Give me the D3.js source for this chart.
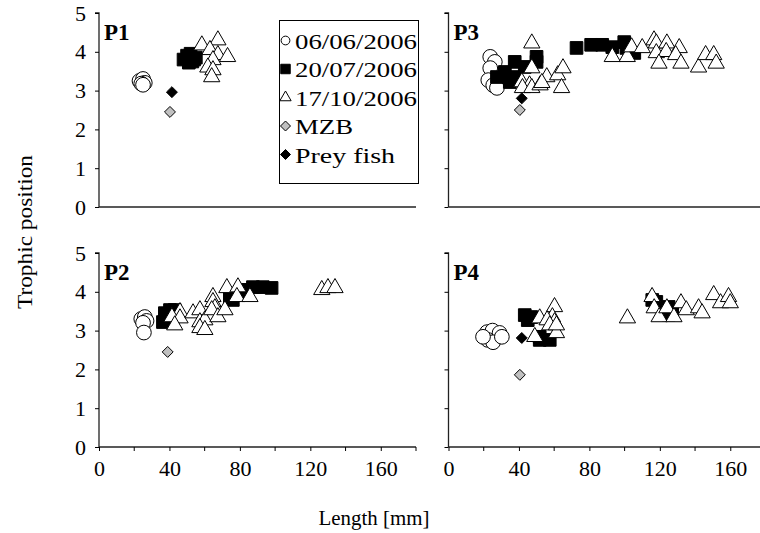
<!DOCTYPE html>
<html>
<head>
<meta charset="utf-8">
<script src="https://cdn.jsdelivr.net/npm/d3@7"></script>
<style>
  body { margin: 0; background: #fff; }
</style>
</head>
<body>
<div class="graph"></div>
<script>
var width = 760,
    height = 533;
var serif = '"Liberation Serif", "Times New Roman", serif';

// series per panel: [length mm, trophic position]
var p1Jun = [[23, 3.25], [25, 3.3], [26, 3.2], [24, 3.18], [25, 3.15]];
var p1Jul = [[48, 3.8], [50, 3.9], [52, 3.95], [54, 3.8], [51, 3.72], [55, 3.85], [53, 3.75]];
var p1Oct = [[58.4, 4.17], [67.5, 4.3], [63, 4.05], [67.5, 3.92], [73, 3.87], [64.7, 3.79], [61.8, 3.6], [64.7, 3.53], [64, 3.35]];
var p1Mzb = [[40.3, 2.45]];
var p1Prey = [[41.4, 2.96]];

var p2Jun = [[24, 3.3], [26, 3.35], [27, 3.25], [25, 3.2], [25.5, 2.95]];
var p2Jul = [[37.4, 3.45], [40.3, 3.53], [36.3, 3.22], [43, 3.53], [42, 3.27],
             [74.3, 3.87], [81, 4.0], [87.4, 4.12], [93, 4.12], [98, 4.1], [76, 3.79], [84, 4.05]];
var p2Oct = [[46, 3.48], [41.4, 3.35], [46, 3.32], [43, 3.14], [53.4, 3.45], [57.3, 3.53], [57.3, 3.22],
             [60.1, 3.27], [57.3, 3.07], [60.1, 3.02], [64.7, 3.87], [64.7, 3.74], [65.8, 3.58], [64, 3.53],
             [67.5, 3.35], [71.5, 3.53], [72.6, 4.1], [78.9, 4.12], [78.3, 3.87], [85.7, 3.87],
             [126.5, 4.05], [130, 4.1], [134, 4.1]];
var p2Mzb = [[39, 2.45]];
var p2Prey = [];

var p3Jun = [[23.7, 3.87], [26.3, 3.74], [23.7, 3.58], [22.6, 3.27], [25.4, 3.14], [27.5, 3.07]];
var p3Jul = [[27.5, 3.35], [32, 3.48], [37.6, 3.74], [37.6, 3.35], [43.3, 3.61], [50, 3.87], [50, 3.74], [34.8, 3.22],
             [72.7, 4.1], [81, 4.18], [87.3, 4.18], [93, 4.12], [99.8, 4.25], [101, 4.1], [105.5, 3.97]];
var p3Oct = [[47.3, 4.22], [47.3, 3.58], [41.6, 3.22], [46, 3.14], [42, 3.07], [47.3, 3.07], [52, 3.14],
             [55.8, 3.35], [62, 3.4], [65, 3.58], [64.2, 3.07], [53, 3.2],
             [93, 3.87], [101.5, 3.87], [104, 4.12], [110, 4.1], [116.7, 4.3], [118, 4.22], [124, 4.22],
             [118, 3.97], [123.6, 4.0], [131, 4.1], [129, 3.92], [119.5, 3.7], [132, 3.7], [142, 3.6],
             [146, 3.92], [150.6, 3.92], [152, 3.7]];
var p3Mzb = [[40.5, 2.5]];
var p3Prey = [[41.6, 2.8]];

var p4Jun = [[21.9, 2.96], [25, 3.0], [29, 2.94], [22.3, 2.76], [25.3, 2.7], [30.3, 2.84], [19.6, 2.84]];
var p4Jul = [[43.3, 3.4], [45, 3.27], [51.8, 2.84], [57.5, 2.76], [51.8, 2.76], [47, 3.35],
             [118, 3.74], [125, 3.61], [115.7, 3.79], [127, 3.5], [125, 3.4]];
var p4Oct = [[60.2, 3.61], [51.8, 3.32], [59, 3.35], [56, 3.27], [60.2, 3.22], [57.5, 3.14], [61.3, 2.94],
             [49, 2.84], [61.3, 3.14], [101.6, 3.32], [115.6, 3.87], [116.8, 3.58], [119.6, 3.35],
             [124, 3.58], [128, 3.35], [132, 3.71], [135, 3.53], [142, 3.58], [144, 3.45],
             [150.6, 3.92], [154.5, 3.71], [159, 3.87], [160, 3.71]];
var p4Mzb = [[40.5, 1.86]];
var p4Prey = [[41.6, 2.81]];

var yTicks = [0, 1, 2, 3, 4, 5];
var xMajor = [0, 40, 80, 120, 160];
var xMinor = [20, 60, 100, 140, 180];
var legendLabels = ["06/06/2006", "20/07/2006", "17/10/2006", "MZB", "Prey fish"];
var legendWidths = [122, 122, 122, 58, 100];

var svg = d3.select(".graph").append("svg")
    .attr("width", width)
    .attr("height", height);

var xLeft = d3.scaleLinear().domain([0, 180]).range([99, 416]),
    xRight = d3.scaleLinear().domain([0, 180]).range([448.5, 765.5]),
    yTop = d3.scaleLinear().domain([0, 5]).range([207, 13]),
    yBot = d3.scaleLinear().domain([0, 5]).range([447, 253]);

var panels = [
  { name: "P1", x: xLeft, y: yTop, bottom: false, labels: true, s: [p1Jun, p1Jul, p1Oct, p1Mzb, p1Prey] },
  { name: "P3", x: xRight, y: yTop, bottom: false, labels: false, s: [p3Jun, p3Jul, p3Oct, p3Mzb, p3Prey] },
  { name: "P2", x: xLeft, y: yBot, bottom: true, labels: true, s: [p2Jun, p2Jul, p2Oct, p2Mzb, p2Prey] },
  { name: "P4", x: xRight, y: yBot, bottom: true, labels: false, s: [p4Jun, p4Jul, p4Oct, p4Mzb, p4Prey] }
];

// diamond = square turned 45 degrees
var diamond = {
  draw: function(ctx, size) {
    var r = Math.sqrt(size / 2);
    ctx.moveTo(0, -r); ctx.lineTo(r, 0); ctx.lineTo(0, r); ctx.lineTo(-r, 0); ctx.closePath();
  }
};

// marker styles for the five series
var styles = [
  { type: d3.symbolCircle, size: 170, fill: "#fff", leg: 60 },
  { type: d3.symbolSquare, size: 160, fill: "#000", leg: 90 },
  { type: d3.symbolTriangle, size: 115, fill: "#fff", leg: 55 },
  { type: diamond, size: 60, fill: "#c0c0c0", leg: 50 },
  { type: diamond, size: 60, fill: "#000", leg: 50 }
];

panels.forEach(function(p) {
  var g = svg.append("g");

  // y axis
  var yAxis = d3.axisLeft(p.y).tickValues(yTicks).tickSize(4).tickPadding(9)
      .tickFormat(p.labels ? d3.format("d") : function() { return ""; });
  var ya = g.append("g")
      .attr("transform", "translate(" + p.x(0) + ",0)")
      .call(yAxis);
  ya.select(".domain").attr("d", "M-4," + p.y(5) + "H0V" + p.y(0));

  // x axis
  var xa = g.append("g").attr("transform", "translate(0," + p.y(0) + ")");
  if (p.bottom) {
    xa.call(d3.axisBottom(p.x).tickValues(xMajor).tickSize(4).tickPadding(9).tickFormat(d3.format("d")));
    xa.selectAll(".minor").data(xMinor).enter().append("line")
        .attr("class", "minor")
        .attr("x1", function(d) { return p.x(d); })
        .attr("x2", function(d) { return p.x(d); })
        .attr("y1", 0).attr("y2", 4)
        .attr("stroke", "#000");
  } else {
    xa.call(d3.axisBottom(p.x).tickValues([]).tickSizeOuter(0));
  }
  xa.select(".domain").attr("d", "M" + p.x(0) + ",0H" + p.x(180));

  g.selectAll(".domain").attr("stroke", "#222").attr("stroke-width", 1.3);
  g.selectAll(".tick text")
      .attr("font-size", 22)
      .attr("font-family", serif)
      .style("font-family", serif)
      .style("font-size", "22px")
      .attr("fill", "#000");

  // points
  p.s.forEach(function(data, i) {
    var st = styles[i];
    g.selectAll(".pt" + i).data(data).enter().append("path")
        .attr("class", "pt" + i)
        .attr("d", d3.symbol().type(st.type).size(st.size))
        .attr("transform", function(d) { return "translate(" + p.x(d[0]) + "," + p.y(d[1]) + ")"; })
        .attr("fill", st.fill)
        .attr("stroke", "#000")
        .attr("stroke-width", 1);
  });

  g.append("text")
      .attr("x", p.x(0) + 5)
      .attr("y", p.y(5) + 27)
      .attr("font-family", serif)
      .attr("font-size", 23)
      .attr("font-weight", "bold")
      .attr("fill", "#000")
      .text(p.name);
});

// legend
var legend = svg.append("g");
legend.append("rect")
    .attr("x", 279.5).attr("y", 20.5)
    .attr("width", 139).attr("height", 163)
    .attr("fill", "#fff").attr("stroke", "#000").attr("stroke-width", 1);

legendLabels.forEach(function(lab, i) {
  var yy = 40.5 + i * 28.5;
  legend.append("path")
      .attr("d", d3.symbol().type(styles[i].type).size(styles[i].leg))
      .attr("transform", "translate(285.5," + yy + ")")
      .attr("fill", styles[i].fill)
      .attr("stroke", "#000");
  legend.append("text")
      .attr("x", 295)
      .attr("y", yy + 8)
      .attr("font-family", serif)
      .attr("font-size", 22)
      .attr("fill", "#000")
      .attr("textLength", legendWidths[i])
      .attr("lengthAdjust", "spacingAndGlyphs")
      .text(lab);
});

// axis titles
svg.append("text")
    .attr("transform", "translate(32,232) rotate(-90)")
    .attr("text-anchor", "middle")
    .attr("font-family", serif)
    .attr("font-size", 21)
    .attr("fill", "#000")
    .attr("textLength", 154)
    .attr("lengthAdjust", "spacingAndGlyphs")
    .text("Trophic position");

svg.append("text")
    .attr("x", 374)
    .attr("y", 525)
    .attr("text-anchor", "middle")
    .attr("font-family", serif)
    .attr("font-size", 21)
    .attr("fill", "#000")
    .attr("textLength", 111)
    .attr("lengthAdjust", "spacingAndGlyphs")
    .text("Length [mm]");
</script>
</body>
</html>
